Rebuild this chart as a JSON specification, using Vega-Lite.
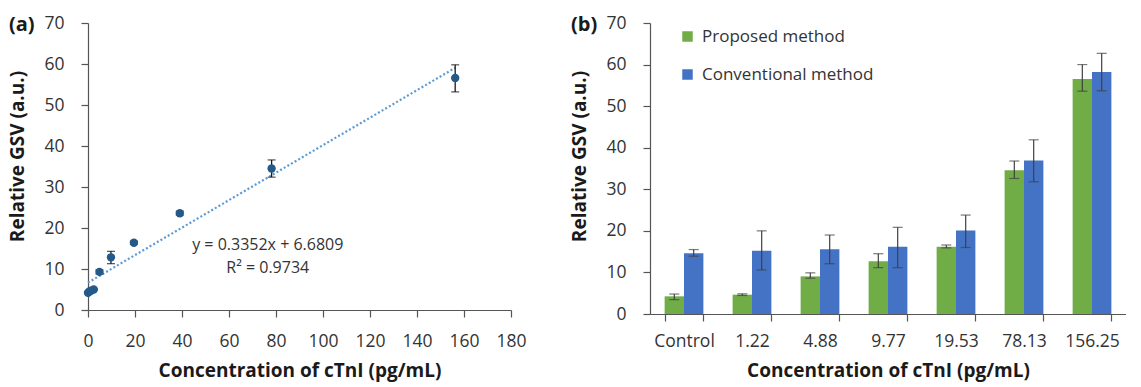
{
  "$schema": "https://vega.github.io/schema/vega-lite/v6.json",
  "padding": {"left": 8, "top": 14, "right": 0, "bottom": 6},
  "background": "white",
  "datasets": {
    "cal": [
      {"conc": 0, "gsv": 4.2, "lo": 4.0, "hi": 4.4},
      {"conc": 0.61, "gsv": 4.5, "lo": 4.3, "hi": 4.7},
      {"conc": 1.22, "gsv": 4.7, "lo": 4.5, "hi": 4.9},
      {"conc": 2.44, "gsv": 5.0, "lo": 4.8, "hi": 5.2},
      {"conc": 4.88, "gsv": 9.3, "lo": 8.8, "hi": 9.8},
      {"conc": 9.77, "gsv": 12.85, "lo": 11.3, "hi": 14.3},
      {"conc": 19.53, "gsv": 16.4, "lo": 16.0, "hi": 16.8},
      {"conc": 39.06, "gsv": 23.6, "lo": 23.1, "hi": 24.1},
      {"conc": 78.13, "gsv": 34.5, "lo": 32.4, "hi": 36.6},
      {"conc": 156.25, "gsv": 56.6, "lo": 53.2, "hi": 59.8}
    ],
    "trend": [
      {"conc": 0, "fit": 6.68},
      {"conc": 156.25, "fit": 59.06}
    ],
    "bars": [
      {"cat": "Control", "method": "Proposed method", "gsv": 4.25, "lo": 3.45, "hi": 4.8},
      {"cat": "Control", "method": "Conventional method", "gsv": 14.6, "lo": 13.9, "hi": 15.5},
      {"cat": "1.22", "method": "Proposed method", "gsv": 4.65, "lo": 4.45, "hi": 4.85},
      {"cat": "1.22", "method": "Conventional method", "gsv": 15.2, "lo": 10.6, "hi": 20.0},
      {"cat": "4.88", "method": "Proposed method", "gsv": 9.05, "lo": 8.6, "hi": 9.9},
      {"cat": "4.88", "method": "Conventional method", "gsv": 15.55, "lo": 12.1, "hi": 19.0},
      {"cat": "9.77", "method": "Proposed method", "gsv": 12.7, "lo": 11.15, "hi": 14.5},
      {"cat": "9.77", "method": "Conventional method", "gsv": 16.2, "lo": 11.15, "hi": 20.85},
      {"cat": "19.53", "method": "Proposed method", "gsv": 16.2, "lo": 15.9, "hi": 16.6},
      {"cat": "19.53", "method": "Conventional method", "gsv": 20.1, "lo": 16.0, "hi": 23.8},
      {"cat": "78.13", "method": "Proposed method", "gsv": 34.6, "lo": 32.6, "hi": 36.8},
      {"cat": "78.13", "method": "Conventional method", "gsv": 36.9, "lo": 31.8, "hi": 41.9},
      {"cat": "156.25", "method": "Proposed method", "gsv": 56.5, "lo": 53.6, "hi": 60.0},
      {"cat": "156.25", "method": "Conventional method", "gsv": 58.2, "lo": 53.7, "hi": 62.7}
    ]
  },
  "hconcat": [
    {
      "width": 423,
      "height": 287,
      "title": {"text": "(a)", "anchor": "start", "frame": "bounds", "fontSize": 20, "fontWeight": "bold", "color": "#1a1a1a", "font": "Open Sans", "dy": 25},
      "layer": [
        {
          "data": {"name": "trend"},
          "mark": {"type": "line", "color": "#5b9bd5", "strokeWidth": 2.2, "strokeDash": [2, 2.2]},
          "encoding": {
            "x": {"field": "conc", "type": "quantitative", "scale": {"domain": [0, 180], "nice": false},
                  "axis": {"values": [0, 20, 40, 60, 80, 100, 120, 140, 160, 180], "labelFlush": false, "title": "Concentration of cTnI (pg/mL)", "labelPadding": 15, "titlePadding": 12}},
            "y": {"field": "fit", "type": "quantitative", "scale": {"domain": [0, 70], "nice": false},
                  "axis": {"values": [0, 10, 20, 30, 40, 50, 60, 70], "title": "Relative GSV (a.u.)"}}
          }
        },
        {
          "data": {"name": "cal"},
          "mark": {"type": "rule", "color": "#1a1a1a", "strokeWidth": 1.3},
          "encoding": {
            "x": {"field": "conc", "type": "quantitative"},
            "y": {"field": "lo", "type": "quantitative"},
            "y2": {"field": "hi"}
          }
        },
        {
          "data": {"name": "cal"},
          "mark": {"type": "tick", "orient": "horizontal", "color": "#1a1a1a", "size": 8, "thickness": 1.3},
          "encoding": {
            "x": {"field": "conc", "type": "quantitative"},
            "y": {"field": "lo", "type": "quantitative"}
          }
        },
        {
          "data": {"name": "cal"},
          "mark": {"type": "tick", "orient": "horizontal", "color": "#1a1a1a", "size": 8, "thickness": 1.3},
          "encoding": {
            "x": {"field": "conc", "type": "quantitative"},
            "y": {"field": "hi", "type": "quantitative"}
          }
        },
        {
          "data": {"name": "cal"},
          "mark": {"type": "circle", "color": "#245a8a", "opacity": 1, "size": 70},
          "encoding": {
            "x": {"field": "conc", "type": "quantitative"},
            "y": {"field": "gsv", "type": "quantitative"}
          }
        },
        {
          "data": {"values": [{}]},
          "mark": {"type": "text", "text": "y = 0.3352x + 6.6809", "font": "Open Sans", "fontSize": 16, "color": "#333333", "align": "center", "baseline": "middle"},
          "encoding": {"x": {"datum": 76.5}, "y": {"datum": 15.9}}
        },
        {
          "data": {"values": [{}]},
          "mark": {"type": "text", "text": "R² = 0.9734", "font": "Open Sans", "fontSize": 16, "color": "#333333", "align": "center", "baseline": "middle"},
          "encoding": {"x": {"datum": 76.5}, "y": {"datum": 10.3}}
        }
      ]
    },
    {
      "width": 476,
      "height": 291,
      "title": {"text": "(b)", "anchor": "start", "frame": "bounds", "fontSize": 20, "fontWeight": "bold", "color": "#1a1a1a", "font": "Open Sans", "dy": 25},
      "data": {"name": "bars"},
      "encoding": {
        "x": {"field": "cat", "type": "nominal",
              "sort": ["Control", "1.22", "4.88", "9.77", "19.53", "78.13", "156.25"],
              "scale": {"paddingInner": 0.43, "paddingOuter": 0.215},
              "axis": {"labelAngle": 0, "tickBand": "extent", "title": "Concentration of cTnI (pg/mL)", "labelPadding": 11, "titlePadding": 12}},
        "xOffset": {"field": "method", "type": "nominal", "sort": ["Proposed method", "Conventional method"], "scale": {"paddingInner": 0, "paddingOuter": 0}}
      },
      "layer": [
        {
          "mark": {"type": "bar"},
          "encoding": {
            "y": {"field": "gsv", "type": "quantitative", "scale": {"domain": [0, 70], "nice": false},
                  "axis": {"values": [0, 10, 20, 30, 40, 50, 60, 70], "title": "Relative GSV (a.u.)"}},
            "color": {"field": "method", "type": "nominal",
                      "scale": {"domain": ["Proposed method", "Conventional method"], "range": ["#70ad47", "#4472c4"]},
                      "legend": {"title": null, "orient": "none", "legendX": 29, "legendY": 5, "symbolType": "square", "symbolSize": 110, "symbolStrokeWidth": 0, "symbolOpacity": 1, "labelFont": "Open Sans", "labelFontSize": 17, "labelColor": "#333333", "labelLimit": 0, "rowPadding": 20, "padding": 0, "labelOffset": 6}}
          }
        },
        {
          "mark": {"type": "rule", "color": "#404040", "strokeWidth": 1.2},
          "encoding": {
            "y": {"field": "lo", "type": "quantitative"},
            "y2": {"field": "hi"}
          }
        },
        {
          "mark": {"type": "tick", "color": "#404040", "size": 10, "thickness": 1.2},
          "encoding": {"y": {"field": "lo", "type": "quantitative"}}
        },
        {
          "mark": {"type": "tick", "color": "#404040", "size": 10, "thickness": 1.2},
          "encoding": {"y": {"field": "hi", "type": "quantitative"}}
        }
      ]
    }
  ],
  "spacing": 43,
  "resolve": {"legend": {"color": "independent"}},
  "config": {
    "view": {"stroke": null},
    "font": "Open Sans",
    "axis": {
      "grid": false,
      "labelFont": "Open Sans", "labelFontSize": 17.5, "labelColor": "#333333",
      "titleFont": "Open Sans", "titleFontSize": 19, "titleFontWeight": "bold", "titleColor": "#1a1a1a",
      "domainColor": "#555555", "tickColor": "#555555", "tickSize": 7, "domainWidth": 1.2, "tickWidth": 1.2
    },
    "axisY": {"labelPadding": 17, "titlePadding": 16, "titleY": 133}
  }
}
